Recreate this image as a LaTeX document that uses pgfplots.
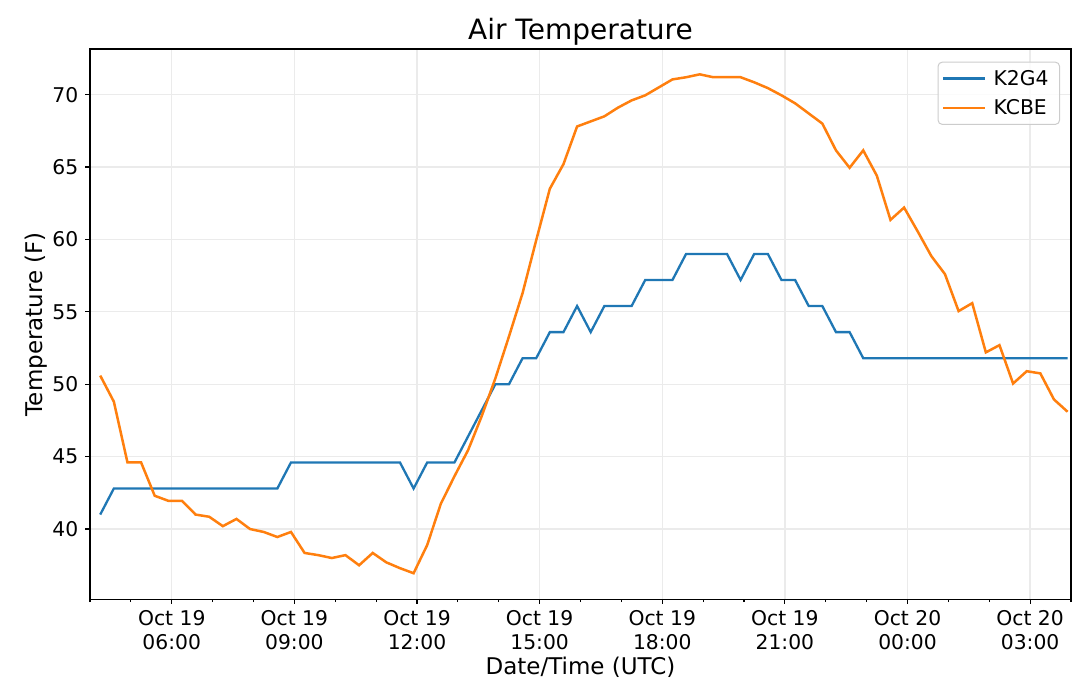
\documentclass[border=0pt]{standalone}
\usepackage{fontspec}
\setmainfont{DejaVu Sans}
\usepackage{pgfplots}
\pgfplotsset{compat=1.18}
\usepackage{pgfplotstable}
\definecolor{tabblue}{HTML}{1F77B4}
\definecolor{taborange}{HTML}{FF7F0E}
\definecolor{gridgray}{HTML}{EBEBEB}
\definecolor{legedge}{HTML}{CCCCCC}

\pgfplotstableread{
t k2g4 kcbe
4.25 41.0 50.6
4.5833 42.8 48.8
4.9167 42.8 44.6
5.25 42.8 44.6
5.5833 42.8 42.3
5.9167 42.8 41.95
6.25 42.8 41.95
6.5833 42.8 41.0
6.9167 42.8 40.85
7.25 42.8 40.2
7.5833 42.8 40.7
7.9167 42.8 40.0
8.25 42.8 39.8
8.5833 42.8 39.45
8.9167 44.6 39.8
9.25 44.6 38.35
9.5833 44.6 38.2
9.9167 44.6 38.0
10.25 44.6 38.2
10.5833 44.6 37.5
10.9167 44.6 38.35
11.25 44.6 37.7
11.5833 44.6 37.3
11.9167 42.8 36.95
12.25 44.6 38.9
12.5833 44.6 41.75
12.9167 44.6 43.65
13.25 46.4 45.45
13.5833 48.2 47.8
13.9167 50.0 50.4
14.25 50.0 53.3
14.5833 51.8 56.3
14.9167 51.8 59.95
15.25 53.6 63.5
15.5833 53.6 65.2
15.9167 55.4 67.8
16.25 53.6 68.15
16.5833 55.4 68.5
16.9167 55.4 69.1
17.25 55.4 69.6
17.5833 57.2 69.95
17.9167 57.2 70.5
18.25 57.2 71.05
18.5833 59.0 71.2
18.9167 59.0 71.4
19.25 59.0 71.2
19.5833 59.0 71.2
19.9167 57.2 71.2
20.25 59.0 70.85
20.5833 59.0 70.45
20.9167 57.2 69.95
21.25 57.2 69.4
21.5833 55.4 68.7
21.9167 55.4 68.0
22.25 53.6 66.15
22.5833 53.6 64.95
22.9167 51.8 66.15
23.25 51.8 64.4
23.5833 51.8 61.35
23.9167 51.8 62.2
24.25 51.8 60.55
24.5833 51.8 58.85
24.9167 51.8 57.6
25.25 51.8 55.05
25.5833 51.8 55.6
25.9167 51.8 52.2
26.25 51.8 52.7
26.5833 51.8 50.05
26.9167 51.8 50.9
27.25 51.8 50.75
27.5833 51.8 48.95
27.9167 51.8 48.1
}\datatable

\begin{document}
\begin{tikzpicture}
\begin{axis}[
  at={(90pt,86.7pt)}, anchor=south west,
  scale only axis, width=981pt, height=550.3pt,
  xmin=4, xmax=28, ymin=35.15, ymax=73.15,
  xtick={6,9,12,15,18,21,24,27},
  xticklabels={Oct 19\\06:00,Oct 19\\09:00,Oct 19\\12:00,Oct 19\\15:00,Oct 19\\18:00,Oct 19\\21:00,Oct 20\\00:00,Oct 20\\03:00},
  minor xtick={4,5,7,8,10,11,13,14,16,17,19,20,22,23,25,26,28},
  ytick={40,45,50,55,60,65,70},
  scaled ticks=false,
  /pgf/number format/assume math mode=true,
  grid=major,
  major grid style={gridgray, line width=1.3pt},
  minor grid style={draw=none},
  tick align=outside, xtick pos=lower, ytick pos=lower,
  major tick length=4.5pt, minor tick length=2.7pt,
  every tick/.style={black, line width=1.2pt},
  axis line style={black, line width=1.3pt},
  xticklabel style={align=center, anchor=north, inner sep=0pt, yshift=-6pt, font=\fontsize{20.3}{24}\selectfont},
  yticklabel style={anchor=east, inner sep=0pt, xshift=-7pt, font=\fontsize{20.3}{24}\selectfont},
  title={Air Temperature},
  title style={at={(axis description cs:0.5,1)}, anchor=base, yshift=3.7pt, font=\fontsize{28}{32}\selectfont},
  xlabel={Date/Time (UTC)},
  xlabel style={at={(axis description cs:0.5,0)}, anchor=base, yshift=-74.7pt, font=\fontsize{23}{27}\selectfont},
  ylabel={Temperature (F)},
  ylabel style={at={(axis description cs:0,0.5)}, anchor=base, yshift=47.6pt, font=\fontsize{23}{27}\selectfont},
  legend cell align=left,
  legend image code/.code={\draw[#1] (0pt,0pt) -- (42pt,0pt);},
  legend style={at={(axis description cs:1,1)}, anchor=north east, xshift=-11pt, yshift=-12.7pt,
    draw=legedge, line width=1pt, rounded corners=4pt, fill=white, fill opacity=0.8, text opacity=1,
    font=\fontsize{20.3}{24}\selectfont, row sep=9pt, inner xsep=4pt, inner ysep=6pt,
    nodes={inner xsep=7pt}},
]
\addplot[tabblue, line width=2.3pt] table[x=t, y=k2g4] {\datatable};
\addlegendentry{K2G4}
\addplot[taborange, line width=2.5pt] table[x=t, y=kcbe] {\datatable};
\addlegendentry{KCBE}
\end{axis}
\pgfresetboundingbox
\useasboundingbox (0,0) rectangle (1080pt,686pt);
\end{tikzpicture}
\end{document}
